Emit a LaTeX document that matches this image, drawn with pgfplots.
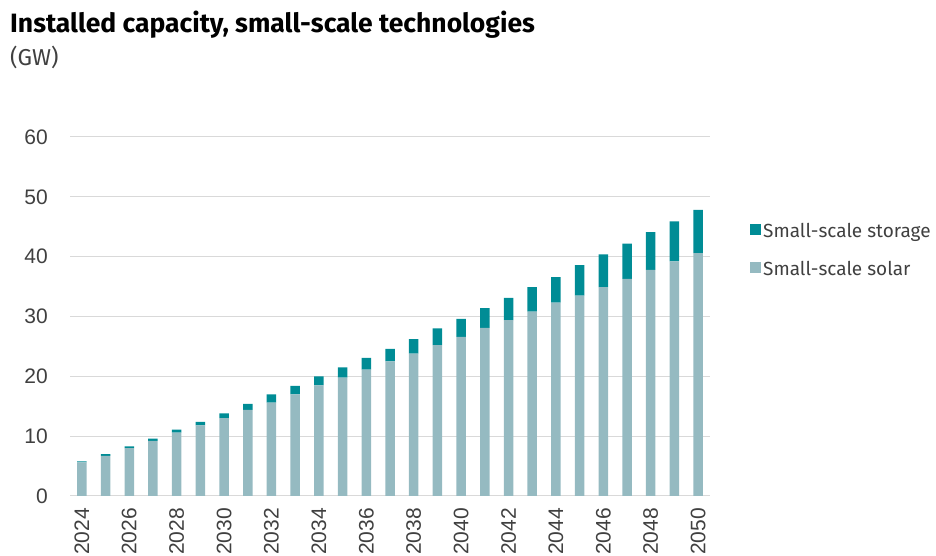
\documentclass[border=0pt]{standalone}
\usepackage{fontspec}
\setmainfont{Fira Sans}
\newfontfamily\tickfont{Liberation Sans}
\usepackage{pgfplots}
\pgfplotsset{compat=1.18}
\definecolor{storage}{HTML}{008C95}
\definecolor{solar}{HTML}{95BAC1}
\definecolor{gridc}{HTML}{D9D9D9}
\definecolor{txt}{HTML}{404040}
\begin{document}
\begin{tikzpicture}[x=1pt,y=1pt]
\useasboundingbox (0,0) rectangle (936,556);
\node[anchor=base west, inner sep=0pt, font=\fontsize{26.5}{30}\selectfont\bfseries] at (10,523) {Installed capacity, small-scale technologies};
\node[anchor=base west, inner sep=0pt, font=\fontsize{23}{26}\selectfont, text=txt] at (10,490) {(GW)};
\begin{axis}[
  at={(70pt,60pt)}, anchor=south west,
  scale only axis, width=640pt, height=359pt,
  ybar stacked, bar width=9.5pt,
  xmin=-0.5, xmax=26.5, ymin=0, ymax=60,
  ytick={0,10,...,60},
  xtick={0,2,...,26},
  xticklabels={2024,2026,2028,2030,2032,2034,2036,2038,2040,2042,2044,2046,2048,2050},
  axis x line*=bottom, axis y line*=left,
  x axis line style={draw=gridc, line width=1pt, -},
  y axis line style={draw=none},
  ymajorgrids, grid style={draw=gridc, line width=1pt},
  major tick length=0pt,
  /pgf/number format/assume math mode=true,
  ticklabel style={font=\tickfont\fontsize{21}{21}\selectfont, text=txt, inner sep=0pt},
  yticklabel style={anchor=east, xshift=-22pt},
  xticklabel style={rotate=90, anchor=east},
  xticklabel shift=12pt,
  reverse legend,
  legend style={at={(rel axis cs:1.0625,0.765)}, anchor=north west, draw=none, fill=none,
    font=\fontsize{19}{19}\selectfont, text=txt, row sep=18pt, inner sep=0pt,
    /tikz/every even column/.style={column sep=0pt}},
  legend cell align=left,
  legend image code/.code={\fill[#1] (0pt,-4pt) rectangle (11pt,7pt);},
]
\addplot[fill=solar, draw=none] coordinates {
(0,5.6) (1,6.7) (2,8.0) (3,9.2) (4,10.6) (5,11.8) (6,13.0) (7,14.4) (8,15.6) (9,17.0)
(10,18.5) (11,19.8) (12,21.1) (13,22.5) (14,23.8) (15,25.2) (16,26.6) (17,28.1) (18,29.4)
(19,30.8) (20,32.3) (21,33.5) (22,34.9) (23,36.3) (24,37.8) (25,39.2) (26,40.6)};
\addlegendentry{Small-scale solar}
\addplot[fill=storage, draw=none] coordinates {
(0,0.2) (1,0.3) (2,0.3) (3,0.4) (4,0.5) (5,0.6) (6,0.8) (7,1.0) (8,1.4) (9,1.4)
(10,1.5) (11,1.7) (12,2.0) (13,2.1) (14,2.4) (15,2.8) (16,3.0) (17,3.3) (18,3.7)
(19,4.1) (20,4.3) (21,5.1) (22,5.5) (23,5.9) (24,6.3) (25,6.7) (26,7.2)};
\addlegendentry{Small-scale storage}
\end{axis}
\end{tikzpicture}
\end{document}
